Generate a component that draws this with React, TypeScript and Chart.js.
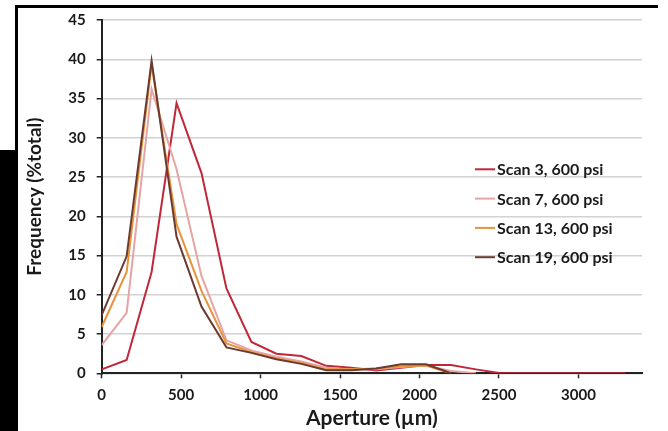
import { useEffect, useRef } from "react";
import { Chart, registerables } from "chart.js";

Chart.register(...registerables);

// Aperture bin positions (µm) and frequency per scan (% of total)
const apertureUm = [0, 157, 314, 471, 628, 785, 942, 1099, 1256, 1413, 1570, 1727, 1884, 2041, 2198, 2355, 2512, 2669, 2826, 2983, 3140, 3297];
const scan3 = [0.5, 1.7, 12.9, 34.4, 25.5, 10.8, 4.0, 2.5, 2.2, 0.95, 0.7, 0.35, 0.7, 1.05, 1.05, 0.5, 0, 0, 0, 0, 0, 0];
const scan7 = [3.6, 7.7, 36.2, 26.0, 12.4, 4.2, 2.9, 2.1, 1.5, 0.7, 0.5, 0.5, 0.8, 1.0, 0.3, 0];
const scan13 = [5.9, 12.9, 39.3, 19.0, 10.5, 3.8, 2.7, 1.9, 1.3, 0.5, 0.5, 0.6, 0.9, 1.0, 0];
const scan19 = [7.4, 14.9, 39.8, 17.4, 8.5, 3.3, 2.6, 1.8, 1.2, 0.4, 0.4, 0.6, 1.15, 1.15, 0];

const seriesLabels = ["Scan 3, 600 psi", "Scan 7, 600 psi", "Scan 13, 600 psi", "Scan 19, 600 psi"];
const seriesColors = ["#c0283a", "#e6a4a4", "#e8923a", "#6b3a30"];
const seriesValues = [scan3, scan7, scan13, scan19];

const xTickValues = [0, 500, 1000, 1500, 2000, 2500, 3000];
const xRange = { min: 0, max: 3400 };
const yRange = { min: 0, max: 45, step: 5 };

const FONT = "Lato, 'Open Sans', sans-serif";
const INK = "#1a1a1a";

// Legend drawn inside the plot area, on the right
const insideLegend = {
  id: "insideLegend",
  afterDraw(chart: Chart) {
    const { ctx } = chart;
    const x0 = 475;
    const y0 = 169.3;
    const gap = 29.3;
    ctx.save();
    ctx.font = `bold 16px ${FONT}`;
    ctx.textBaseline = "middle";
    ctx.textAlign = "left";
    chart.data.datasets.forEach((ds: any, i: number) => {
      const y = y0 + i * gap;
      ctx.strokeStyle = ds.borderColor;
      ctx.lineWidth = 2;
      ctx.beginPath();
      ctx.moveTo(x0, y);
      ctx.lineTo(x0 + 20, y);
      ctx.stroke();
      ctx.fillStyle = INK;
      ctx.fillText(ds.label, x0 + 22, y + 1);
    });
    ctx.restore();
  },
};

export default function App() {
  const canvasRef = useRef<HTMLCanvasElement | null>(null);

  useEffect(() => {
    if (!canvasRef.current) return;
    const datasets = seriesValues.map((vals, i) => ({
      label: seriesLabels[i],
      data: vals.map((v, j) => ({ x: apertureUm[j], y: v })),
      borderColor: seriesColors[i],
      backgroundColor: seriesColors[i],
      borderWidth: 2,
      pointRadius: 0,
      tension: 0,
      fill: false,
      order: seriesValues.length - i,
    }));

    const chart = new Chart(canvasRef.current, {
      type: "line",
      data: { datasets },
      plugins: [insideLegend],
      options: {
        animation: false,
        responsive: false,
        layout: { padding: { left: 0, top: 20, right: 26, bottom: 0 } },
        plugins: {
          legend: { display: false },
          tooltip: { enabled: false },
        },
        scales: {
          x: {
            type: "linear",
            min: xRange.min,
            max: xRange.max,
            afterBuildTicks: (s: any) => {
              s.ticks = xTickValues.map((v) => ({ value: v }));
            },
            afterFit: (s: any) => {
              s.height = 57.7;
            },
            ticks: {
              color: INK,
              padding: 8,
              maxRotation: 0,
              autoSkip: false,
              callback: (v: any) => String(v),
              font: { family: FONT, size: 15, weight: "bold" },
            },
            grid: {
              drawOnChartArea: false,
              drawTicks: true,
              tickLength: 5,
              tickColor: "#222",
              tickWidth: 1.5,
            },
            border: { display: true, color: "#222", width: 2 },
            title: {
              display: true,
              text: "Aperture (µm)",
              color: INK,
              font: { family: FONT, size: 21, weight: "bold" },
              padding: { top: 0, bottom: 0 },
            },
          },
          y: {
            min: yRange.min,
            max: yRange.max,
            afterFit: (s: any) => {
              s.width = 101.7;
            },
            ticks: {
              stepSize: yRange.step,
              color: INK,
              padding: 11,
              font: { family: FONT, size: 15, weight: "bold" },
            },
            grid: {
              color: "#d2d2d2",
              lineWidth: 1.5,
              drawTicks: true,
              tickLength: 5,
              tickColor: "#222",
              tickWidth: 1.5,
            },
            border: { display: true, color: "#222", width: 2 },
            title: {
              display: true,
              text: "Frequency (%total)",
              color: INK,
              font: { family: FONT, size: 19, weight: "bold" },
              padding: { top: 23, bottom: 0 },
            },
          },
        },
      },
    });
    return () => chart.destroy();
  }, []);

  return (
    <div style={{ position: "fixed", left: 0, top: 0, width: 668, height: 431, background: "#fff" }}>
      <canvas ref={canvasRef} width={668} height={431} style={{ display: "block" }} />
      <div style={{ position: "absolute", left: 15, top: 5, width: 643, height: 3, background: "#000" }} />
      <div style={{ position: "absolute", left: 15, top: 5, width: 3, height: 146, background: "#000" }} />
      <div style={{ position: "absolute", left: 0, top: 150, width: 18, height: 281, background: "#000" }} />
    </div>
  );
}
